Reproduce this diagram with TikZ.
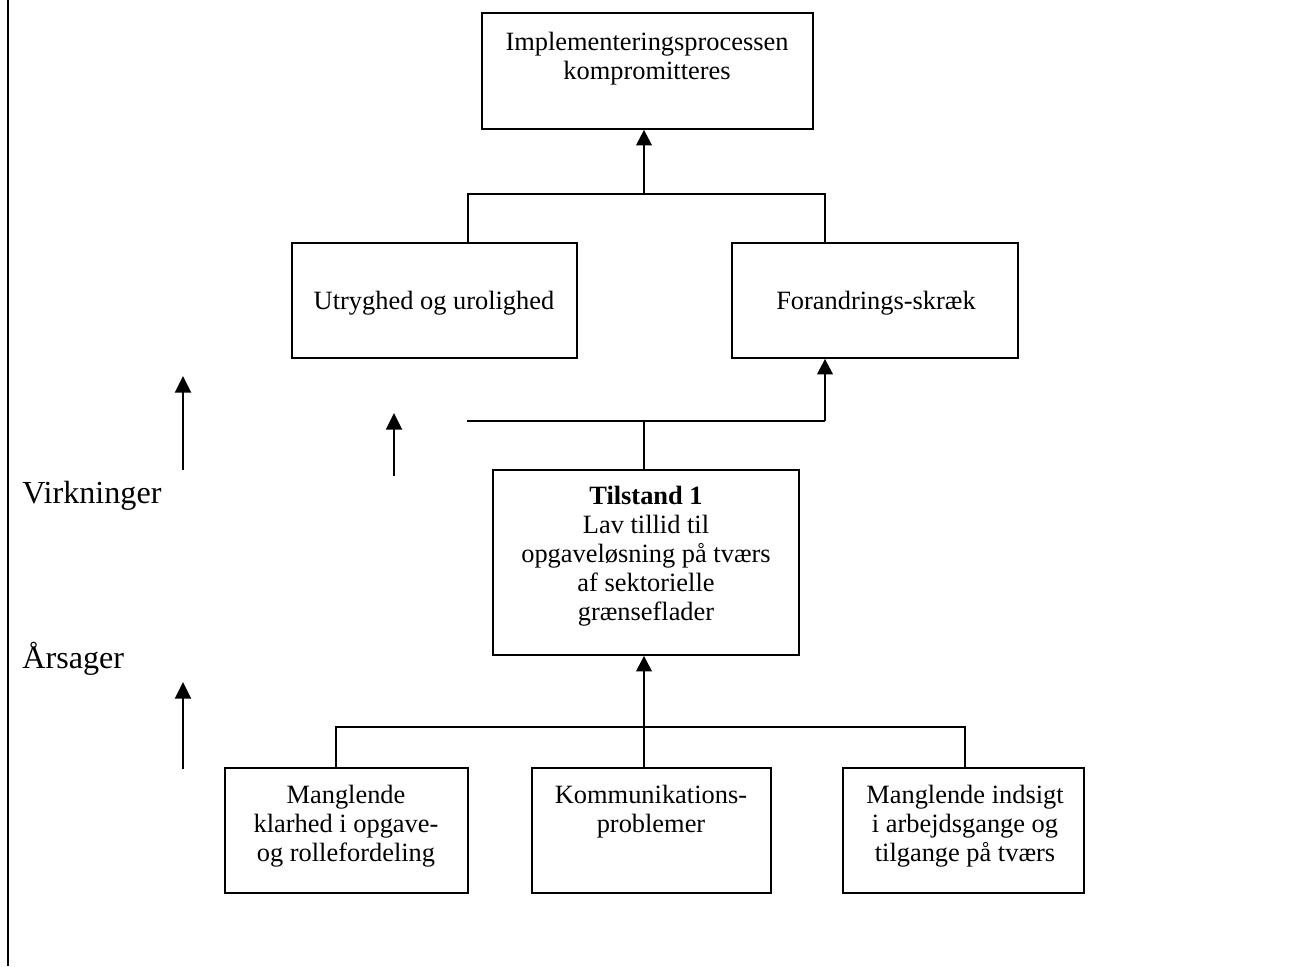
\documentclass[tikz,border=0pt]{standalone}
\usepackage{fontspec}
\setmainfont{Liberation Serif}
\usetikzlibrary{arrows.meta,fit}

\tikzset{
  box/.style={draw, line width=0.8pt, inner sep=0pt, fit={#1}},
  txt/.style={inner sep=0pt, align=center, font=\fontsize{12}{13.2}\selectfont},
  side/.style={inner sep=0pt, anchor=base west, font=\fontsize{14.6}{17}\selectfont},
  link/.style={line width=0.8pt},
  uparrow/.style={line width=1.1pt, -{Triangle[width=7pt,length=7pt]}},
  bigarrow/.style={line width=1.1pt, -{Triangle[width=7.2pt,length=7.5pt]}}
}

\begin{document}
\begin{tikzpicture}[x=0.4545pt, y=-0.4545pt]
\useasboundingbox (0,0) rectangle (1300,966);

% page rule on the left
\draw[line width=0.95pt] (8,0) -- (8,966);

% boxes
\node[box={(482,13) (813,129)}] (top) {};
\node[box={(292,243) (577,358)}] (utr) {};
\node[box={(732,243) (1018,358)}] (for) {};
\node[box={(493,470) (799,655)}] (til) {};
\node[box={(225,768) (468,893)}] (b1) {};
\node[box={(532,768) (771,893)}] (b2) {};
\node[box={(843,768) (1084,893)}] (b3) {};

% box texts
\node[txt, anchor=north] (topt) at (647,32) {Implementeringsprocessen\\kompromitteres};
\node[txt, anchor=base] (utrt) at (434,309) {Utryghed og urolighed};
\node[txt, anchor=base] (fort) at (876,309) {Forandrings-skræk};
\node[txt, anchor=north] (tilt) at (646,486) {\textbf{Tilstand 1}\\Lav tillid til\\opgaveløsning på tværs\\af sektorielle\\grænseflader};
\node[txt, anchor=north] (b1t) at (346,785) {Manglende\\klarhed i opgave-\\og rollefordeling};
\node[txt, anchor=north] (b2t) at (651,785) {Kommunikations-\\problemer};
\node[txt, anchor=north] (b3t) at (965,785) {Manglende indsigt\\i arbejdsgange og\\tilgange på tværs};

% side labels
\node[side] (virk) at (22,503) {Virkninger};
\node[side] (aars) at (22,668) {Årsager};

% junction points
\coordinate (tj) at (644,194);
\coordinate (tl) at (468,194);
\coordinate (tr) at (825,194);
\coordinate (mj) at (644,421);
\coordinate (ml) at (467,421);
\coordinate (mr) at (825,421);
\coordinate (bj) at (644,727);
\coordinate (bl) at (336,727);
\coordinate (br) at (965,727);

% upper level: both effects lead to the top box
\draw[link] (tl |- utr.north) -- (tl) -- (tr) -- (tr |- for.north);
\draw[uparrow] (tj) -- (tj |- top.south);

% middle level
\draw[link] (mj |- til.north) -- (mj);
\draw[link] (ml) -- (mr);
\draw[uparrow] (mr) -- (mr |- for.south);

% lower level: causes lead to Tilstand 1
\draw[link] (bl |- b1.north) -- (bl) -- (br) -- (br |- b3.north);
\draw[uparrow] (bj |- b2.north) -- (bj |- til.south);

% free arrows on the left
\coordinate (a1s) at (183,470);
\coordinate (a1e) at (183,376);
\coordinate (a2s) at (394,476);
\coordinate (a2e) at (394,413);
\coordinate (a3s) at (183,769);
\coordinate (a3e) at (183,682);
\draw[bigarrow] (a1s) -- (a1e);
\draw[bigarrow] (a2s) -- (a2e);
\draw[bigarrow] (a3s) -- (a3e);
\end{tikzpicture}
\end{document}
